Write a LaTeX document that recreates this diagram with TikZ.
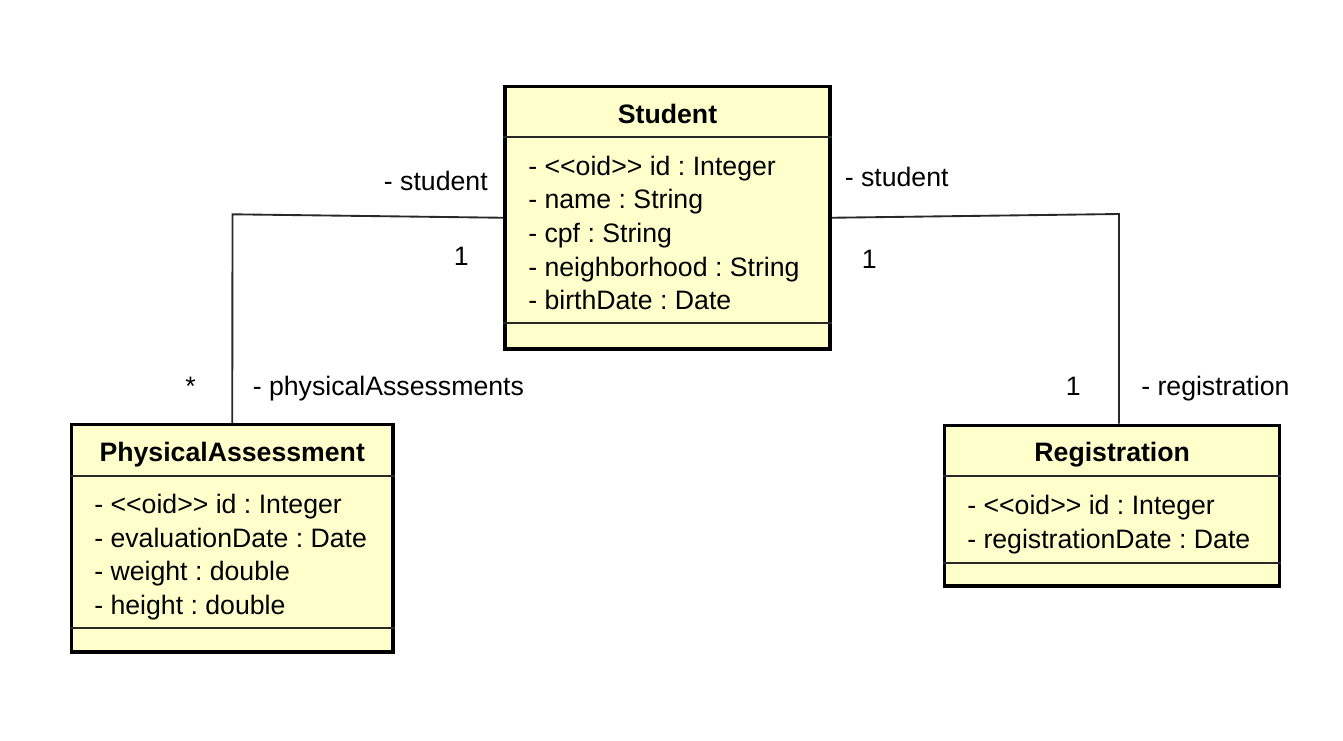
\documentclass[tikz,border=0pt]{standalone}
\usepackage{fontspec}
\setmainfont{Liberation Sans}
\frenchspacing
\definecolor{clsfill}{RGB}{255,255,204}
\definecolor{sepcol}{RGB}{40,40,40}
\newcommand{\oidtag}{<\kern0pt<oid>\kern0pt>}
\begin{document}
\begin{tikzpicture}[x=0.75pt,y=-0.75pt,
  cls/.style={draw=black, line width=2.6pt, fill=clsfill, inner sep=0pt},
  sepline/.style={draw=sepcol, line width=1.4pt},
  conn/.style={draw=sepcol, line width=1.4pt},
  ttl/.style={anchor=base, inner sep=0pt, font=\fontsize{20}{24}\selectfont\bfseries},
  attr/.style={anchor=base west, inner sep=0pt, font=\fontsize{20}{24}\selectfont},
  lblw/.style={anchor=base west, inner sep=0pt, font=\fontsize{20}{24}\selectfont},
  lble/.style={anchor=base east, inner sep=0pt, font=\fontsize{20}{24}\selectfont}]
\useasboundingbox (0,0) rectangle (1343,740);

\coordinate (c1) at (232.5,214.3);
\coordinate (c2) at (1119,214);

% classes
\node[cls, minimum width=325*0.75pt, minimum height=262.5*0.75pt] (student) at (667.5,217.75) {};
\node[cls, minimum width=321.5*0.75pt, minimum height=227.5*0.75pt] (pa) at (232.25,538.25) {};
\node[cls, minimum width=335*0.75pt, minimum height=160.7*0.75pt] (reg) at (1112.2,505.65) {};

% connectors
\draw[conn] (student.west) -- (c1) -- (pa.north);
\draw[conn] (student.east) -- (c2) -- (c2 |- reg.north);

% Student
\draw[sepline] (student.west |- 0,136.7) -- (student.east |- 0,136.7);
\draw[sepline] (student.west |- 0,323) -- (student.east |- 0,323);
\node[ttl] (studentT) at (667.5,123) {Student};
\node[attr] (s1) at (528,175) {- \oidtag{} id : Integer};
\node[attr] (s2) at (528,208.7) {- name : String};
\node[attr] (s3) at (528,242.4) {- cpf : String};
\node[attr] (s4) at (528,276.1) {- neighborhood : String};
\node[attr] (s5) at (528,309.8) {- birthDate : Date};

% PhysicalAssessment
\draw[sepline] (pa.west |- 0,475.7) -- (pa.east |- 0,475.7);
\draw[sepline] (pa.west |- 0,628.3) -- (pa.east |- 0,628.3);
\node[ttl] (paT) at (232.25,461.7) {PhysicalAssessment};
\node[attr] (p1) at (94,513.3) {- \oidtag{} id : Integer};
\node[attr] (p2) at (94,547) {- evaluationDate : Date};
\node[attr] (p3) at (94,580.7) {- weight : double};
\node[attr] (p4) at (94,614.4) {- height : double};

% Registration
\draw[sepline] (reg.west |- 0,476) -- (reg.east |- 0,476);
\draw[sepline] (reg.west |- 0,562.7) -- (reg.east |- 0,562.7);
\node[ttl] (regT) at (1112.2,461.7) {Registration};
\node[attr] (r1) at (967,514.8) {- \oidtag{} id : Integer};
\node[attr] (r2) at (967,548.5) {- registrationDate : Date};

% association labels
\node[lble] (l1) at (488,190.7) {- student};
\node[lble] (l2) at (469,265) {1};
\node[lble] (l3) at (196,395) {*};
\node[lblw] (l4) at (252.5,395) {- physicalAssessments};
\node[lblw] (l5) at (844.5,186.7) {- student};
\node[lblw] (l6) at (861.5,268.3) {1};
\node[lble] (l7) at (1081,395.7) {1};
\node[lblw] (l8) at (1141,395.7) {- registration};
\end{tikzpicture}
\end{document}
